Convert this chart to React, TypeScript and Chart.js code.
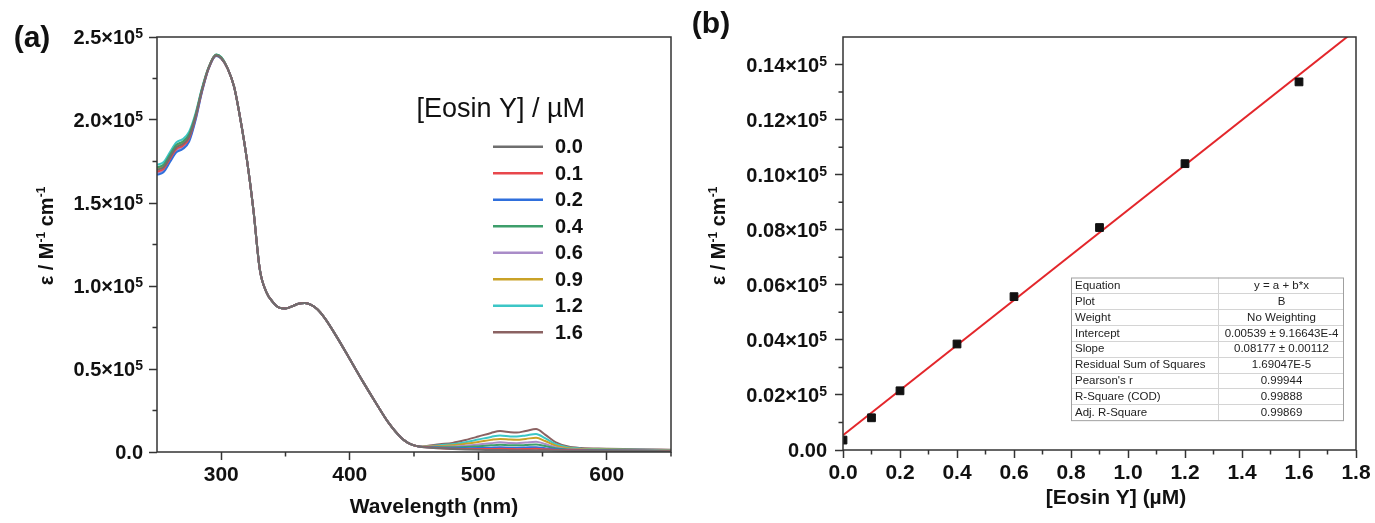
import React, { useEffect, useRef } from 'react';
import { Chart, registerables } from 'chart.js';

Chart.register(...registerables);

const FONT = '"Liberation Sans", Arial, Helvetica, sans-serif';

// ---------- Panel (a): molar absorptivity spectra (values in 10^5 M^-1 cm^-1) ----------
const wavelengths = [250, 255, 260, 265, 270, 275, 280, 285, 290, 296, 300, 305, 310, 315, 320, 325, 330, 335, 340, 345, 350, 355, 360, 365, 370, 375, 380, 390, 400, 410, 420, 430, 440, 445, 450, 455, 460, 470, 480, 490, 500, 510, 517, 525, 530, 537, 545, 552, 560, 570, 580, 600, 625, 650];

const concLabels = ['0.0', '0.1', '0.2', '0.4', '0.6', '0.9', '1.2', '1.6'];
const concColors = ['#6e6e6e', '#e8474c', '#2f6fdc', '#3d9e6b', '#a98cc8', '#c9a227', '#3cc6c6', '#8b6262'];

const eps00 = [1.700, 1.715, 1.775, 1.835, 1.855, 1.900, 2.020, 2.180, 2.310, 2.388, 2.372, 2.310, 2.200, 2.000, 1.760, 1.460, 1.100, 0.965, 0.905, 0.870, 0.865, 0.877, 0.893, 0.898, 0.886, 0.858, 0.812, 0.692, 0.560, 0.427, 0.300, 0.178, 0.086, 0.057, 0.040, 0.032, 0.027, 0.022, 0.018, 0.015, 0.013, 0.012, 0.012, 0.011, 0.011, 0.011, 0.011, 0.010, 0.009, 0.008, 0.008, 0.007, 0.006, 0.005];
const eps01 = [1.690, 1.705, 1.765, 1.825, 1.845, 1.890, 2.013, 2.176, 2.308, 2.388, 2.372, 2.310, 2.200, 2.000, 1.760, 1.460, 1.100, 0.965, 0.905, 0.870, 0.865, 0.877, 0.893, 0.898, 0.886, 0.858, 0.812, 0.692, 0.560, 0.427, 0.300, 0.178, 0.086, 0.057, 0.040, 0.032, 0.028, 0.023, 0.020, 0.018, 0.018, 0.018, 0.019, 0.018, 0.017, 0.018, 0.019, 0.016, 0.012, 0.010, 0.009, 0.008, 0.007, 0.006];
const eps02 = [1.670, 1.685, 1.745, 1.805, 1.825, 1.870, 1.999, 2.168, 2.305, 2.386, 2.370, 2.310, 2.200, 2.000, 1.760, 1.460, 1.100, 0.965, 0.905, 0.870, 0.865, 0.877, 0.893, 0.898, 0.886, 0.858, 0.812, 0.692, 0.560, 0.427, 0.300, 0.178, 0.086, 0.057, 0.040, 0.032, 0.029, 0.025, 0.023, 0.023, 0.024, 0.026, 0.028, 0.026, 0.026, 0.027, 0.029, 0.023, 0.016, 0.012, 0.010, 0.009, 0.007, 0.006];
const eps04 = [1.715, 1.730, 1.790, 1.850, 1.870, 1.915, 2.030, 2.186, 2.312, 2.394, 2.378, 2.310, 2.200, 2.000, 1.760, 1.460, 1.100, 0.965, 0.905, 0.870, 0.865, 0.877, 0.893, 0.898, 0.886, 0.858, 0.812, 0.692, 0.560, 0.427, 0.300, 0.178, 0.086, 0.057, 0.040, 0.032, 0.030, 0.029, 0.028, 0.030, 0.035, 0.040, 0.043, 0.040, 0.040, 0.042, 0.045, 0.036, 0.023, 0.015, 0.012, 0.011, 0.009, 0.007];
const eps06 = [1.680, 1.695, 1.755, 1.815, 1.835, 1.880, 2.006, 2.172, 2.307, 2.387, 2.371, 2.310, 2.200, 2.000, 1.760, 1.460, 1.100, 0.965, 0.905, 0.870, 0.865, 0.877, 0.893, 0.898, 0.886, 0.858, 0.812, 0.692, 0.560, 0.427, 0.300, 0.178, 0.086, 0.057, 0.040, 0.032, 0.031, 0.032, 0.033, 0.038, 0.045, 0.053, 0.058, 0.054, 0.053, 0.057, 0.062, 0.048, 0.029, 0.018, 0.014, 0.012, 0.010, 0.009];
const eps09 = [1.705, 1.720, 1.780, 1.840, 1.860, 1.905, 2.024, 2.182, 2.311, 2.389, 2.373, 2.310, 2.200, 2.000, 1.760, 1.460, 1.100, 0.965, 0.905, 0.870, 0.865, 0.877, 0.893, 0.898, 0.886, 0.858, 0.812, 0.692, 0.560, 0.427, 0.300, 0.178, 0.086, 0.057, 0.040, 0.032, 0.033, 0.036, 0.040, 0.049, 0.060, 0.073, 0.079, 0.075, 0.074, 0.079, 0.086, 0.066, 0.039, 0.023, 0.017, 0.015, 0.012, 0.010];
const eps12 = [1.730, 1.745, 1.805, 1.865, 1.885, 1.930, 2.041, 2.192, 2.315, 2.395, 2.379, 2.310, 2.200, 2.000, 1.760, 1.460, 1.100, 0.965, 0.905, 0.870, 0.865, 0.877, 0.893, 0.898, 0.886, 0.858, 0.812, 0.692, 0.560, 0.427, 0.300, 0.178, 0.086, 0.057, 0.040, 0.032, 0.034, 0.041, 0.047, 0.059, 0.075, 0.091, 0.100, 0.094, 0.093, 0.100, 0.109, 0.083, 0.048, 0.027, 0.020, 0.017, 0.014, 0.012];
const eps16 = [1.708, 1.723, 1.783, 1.843, 1.863, 1.908, 2.026, 2.183, 2.311, 2.389, 2.373, 2.310, 2.200, 2.000, 1.760, 1.460, 1.100, 0.965, 0.905, 0.870, 0.865, 0.877, 0.893, 0.898, 0.886, 0.858, 0.812, 0.692, 0.560, 0.427, 0.300, 0.178, 0.086, 0.057, 0.040, 0.032, 0.036, 0.046, 0.055, 0.072, 0.093, 0.115, 0.126, 0.119, 0.117, 0.127, 0.138, 0.105, 0.060, 0.033, 0.024, 0.020, 0.016, 0.014];
const spectra = [eps00, eps01, eps02, eps04, eps06, eps09, eps12, eps16];

const aXTicks = [300, 400, 500, 600];
const aXTickLabels = ['300', '400', '500', '600'];
const aXMinor = [350, 450, 550, 650];
const aYTicks = [0, 0.5, 1.0, 1.5, 2.0, 2.5];
const aYTickLabels = ['0.0', '0.5×10', '1.0×10', '1.5×10', '2.0×10', '2.5×10'];
const aYTickExp = ['', '5', '5', '5', '5', '5'];
const aYMinor = [0.25, 0.75, 1.25, 1.75, 2.25];

// ---------- Panel (b): calibration (values in 10^5 M^-1 cm^-1) ----------
const bConc = [0.0, 0.1, 0.2, 0.4, 0.6, 0.9, 1.2, 1.6];
const bEps = [0.0036, 0.0117, 0.0215, 0.0385, 0.0557, 0.0808, 0.1040, 0.1337];
const fitLineX = [0, 1.8];
const fitLineY = [0.00539, 0.15258];

const bXTicks = [0, 0.2, 0.4, 0.6, 0.8, 1.0, 1.2, 1.4, 1.6, 1.8];
const bXTickLabels = ['0.0', '0.2', '0.4', '0.6', '0.8', '1.0', '1.2', '1.4', '1.6', '1.8'];
const bXMinor = [0.1, 0.3, 0.5, 0.7, 0.9, 1.1, 1.3, 1.5, 1.7];
const bYTicks = [0, 0.02, 0.04, 0.06, 0.08, 0.10, 0.12, 0.14];
const bYTickLabels = ['0.00', '0.02×10', '0.04×10', '0.06×10', '0.08×10', '0.10×10', '0.12×10', '0.14×10'];
const bYTickExp = ['', '5', '5', '5', '5', '5', '5', '5'];
const bYMinor = [0.01, 0.03, 0.05, 0.07, 0.09, 0.11, 0.13];

const fitTableKeys = ['Equation', 'Plot', 'Weight', 'Intercept', 'Slope', 'Residual Sum of Squares', "Pearson's r", 'R-Square (COD)', 'Adj. R-Square'];
const fitTableValues = ['y = a + b*x', 'B', 'No Weighting', '0.00539 ± 9.16643E-4', '0.08177 ± 0.00112', '1.69047E-5', '0.99944', '0.99888', '0.99869'];

// y-axis title as rich-text parts: [text, isSuperscript]
const yTitleParts: [string, boolean][] = [['ε / M', false], ['-1', true], [' cm', false], ['-1', true]];

function drawRichRotated(ctx: CanvasRenderingContext2D, parts: [string, boolean][], cx: number, cy: number) {
  const big = `bold 20px ${FONT}`;
  const small = `bold 12px ${FONT}`;
  let total = 0;
  const widths = parts.map(([t, sup]) => {
    ctx.font = sup ? small : big;
    const w = ctx.measureText(t).width;
    total += w;
    return w;
  });
  ctx.save();
  ctx.translate(cx, cy);
  ctx.rotate(-Math.PI / 2);
  ctx.fillStyle = '#111';
  ctx.textAlign = 'left';
  ctx.textBaseline = 'alphabetic';
  let x = -total / 2;
  parts.forEach(([t, sup], i) => {
    ctx.font = sup ? small : big;
    ctx.fillText(t, x, sup ? -1 : 7);
    x += widths[i];
  });
  ctx.restore();
}

function axisDecorPlugin(cfg: {
  xMinor: number[]; yMinor: number[]; yTicks: number[]; yLabels: string[]; yExp: string[];
  yLabelRight: number; titleX: number; titleY: number;
}) {
  return {
    id: 'axisDecor',
    afterDraw(chart: any) {
      const { ctx, chartArea: a, scales } = chart;
      ctx.save();
      ctx.strokeStyle = '#333';
      ctx.lineWidth = 1.5;
      ctx.strokeRect(a.left, a.top, a.right - a.left, a.bottom - a.top);
      ctx.beginPath();
      cfg.xMinor.forEach((v) => {
        const p = scales.x.getPixelForValue(v);
        ctx.moveTo(p, a.bottom);
        ctx.lineTo(p, a.bottom + 4.5);
      });
      cfg.yMinor.forEach((v) => {
        const p = scales.y.getPixelForValue(v);
        ctx.moveTo(a.left, p);
        ctx.lineTo(a.left - 4.5, p);
      });
      ctx.stroke();
      // y tick labels with superscript exponent
      ctx.fillStyle = '#111';
      ctx.textBaseline = 'alphabetic';
      ctx.textAlign = 'right';
      cfg.yTicks.forEach((v, i) => {
        const y = scales.y.getPixelForValue(v);
        let xr = cfg.yLabelRight;
        const exp = cfg.yExp[i];
        if (exp) {
          ctx.font = `bold 14px ${FONT}`;
          ctx.fillText(exp, xr, y + 1);
          xr -= ctx.measureText(exp).width;
        }
        ctx.font = `bold 20px ${FONT}`;
        ctx.fillText(cfg.yLabels[i], xr, y + 7.2);
      });
      ctx.restore();
      drawRichRotated(ctx, yTitleParts, cfg.titleX, cfg.titleY);
    },
  };
}

type TextItem = { text: string; x: number; y: number; font: string; align?: CanvasTextAlign };
function textPlugin(items: TextItem[]) {
  return {
    id: 'texts',
    afterDraw(chart: any) {
      const ctx = chart.ctx;
      ctx.save();
      ctx.fillStyle = '#111';
      ctx.textBaseline = 'middle';
      items.forEach((t) => {
        ctx.font = t.font;
        ctx.textAlign = t.align || 'center';
        ctx.fillText(t.text, t.x, t.y);
      });
      ctx.restore();
    },
  };
}

const legendPlugin = {
  id: 'spectraLegend',
  afterDraw(chart: any) {
    const ctx = chart.ctx;
    ctx.save();
    ctx.fillStyle = '#111';
    ctx.textBaseline = 'middle';
    ctx.textAlign = 'right';
    ctx.font = `27px ${FONT}`;
    ctx.fillText('[Eosin Y] / µM', 585, 110);
    chart.data.datasets.forEach((ds: any, i: number) => {
      const y = 146.7 + i * 26.5;
      ctx.strokeStyle = ds.borderColor;
      ctx.lineWidth = 2.5;
      ctx.beginPath();
      ctx.moveTo(493, y);
      ctx.lineTo(543, y);
      ctx.stroke();
      ctx.textAlign = 'left';
      ctx.font = `bold 20px ${FONT}`;
      ctx.fillText(ds.label, 555, y + 1);
    });
    ctx.restore();
  },
};

const tablePlugin = {
  id: 'fitTable',
  afterDraw(chart: any) {
    const ctx = chart.ctx;
    const left = 1071, top = 277.5, colX = 1218, right = 1343, rowH = 15.85;
    const n = fitTableKeys.length;
    const bottom = top + n * rowH;
    ctx.save();
    ctx.fillStyle = '#ffffff';
    ctx.fillRect(left, top, right - left, bottom - top);
    ctx.strokeStyle = '#d4d4d4';
    ctx.lineWidth = 1;
    ctx.beginPath();
    for (let i = 1; i < n; i++) {
      const y = Math.round(top + i * rowH) + 0.5;
      ctx.moveTo(left, y);
      ctx.lineTo(right, y);
    }
    ctx.moveTo(colX + 0.5, top);
    ctx.lineTo(colX + 0.5, bottom);
    ctx.stroke();
    ctx.strokeStyle = '#a0a0a0';
    ctx.strokeRect(left + 0.5, top + 0.5, right - left, bottom - top);
    ctx.fillStyle = '#222';
    ctx.font = `11.5px ${FONT}`;
    ctx.textBaseline = 'middle';
    for (let i = 0; i < n; i++) {
      const y = top + (i + 0.5) * rowH + 0.5;
      ctx.textAlign = 'left';
      ctx.fillText(fitTableKeys[i], left + 4, y);
      ctx.textAlign = 'center';
      ctx.fillText(fitTableValues[i], (colX + right) / 2 + 1, y);
    }
    ctx.restore();
  },
};

function axisCommon(tickFontSize: number) {
  return {
    type: 'linear' as const,
    border: { display: false },
    grid: {
      display: true,
      drawOnChartArea: false,
      drawTicks: true,
      tickLength: 8,
      tickWidth: 1.5,
      tickColor: '#333',
    },
    ticks: {
      font: { family: FONT, weight: 'bold' as const, size: tickFontSize },
      color: '#111',
      maxRotation: 0,
      minRotation: 0,
      autoSkip: false,
    },
  };
}

export default function App() {
  const refA = useRef<HTMLCanvasElement>(null);
  const refB = useRef<HTMLCanvasElement>(null);

  useEffect(() => {
    const ax = axisCommon(21);
    const ay = axisCommon(20);
    const chartA = new Chart(refA.current as HTMLCanvasElement, {
      type: 'line',
      data: {
        datasets: spectra.map((arr, i) => ({
          label: concLabels[i],
          data: wavelengths.map((w, j) => ({ x: w, y: arr[j] })),
          borderColor: concColors[i],
          backgroundColor: concColors[i],
          borderWidth: 2,
          pointRadius: 0,
          cubicInterpolationMode: 'monotone' as const,
          fill: false,
        })),
      },
      options: {
        responsive: false,
        animation: false,
        devicePixelRatio: 1,
        layout: { padding: { left: 0, top: 37, right: 704, bottom: 0 } },
        plugins: { legend: { display: false }, tooltip: { enabled: false } },
        scales: {
          x: {
            ...ax,
            min: 250,
            max: 650,
            afterBuildTicks: (s: any) => { s.ticks = aXTicks.map((v) => ({ value: v })); },
            afterFit: (s: any) => { s.height = 71; },
            ticks: { ...ax.ticks, padding: 3, callback: (_v: any, i: number) => aXTickLabels[i] },
          },
          y: {
            ...ay,
            min: 0,
            max: 2.5,
            afterBuildTicks: (s: any) => { s.ticks = aYTicks.map((v) => ({ value: v })); },
            afterFit: (s: any) => { s.width = 157; },
            ticks: { ...ay.ticks, display: false },
          },
        },
      },
      plugins: [
        axisDecorPlugin({
          xMinor: aXMinor, yMinor: aYMinor, yTicks: aYTicks, yLabels: aYTickLabels, yExp: aYTickExp,
          yLabelRight: 143, titleX: 46, titleY: 236,
        }),
        legendPlugin,
        textPlugin([
          { text: 'Wavelength (nm)', x: 434, y: 507, font: `bold 21px ${FONT}` },
          { text: '(a)', x: 32, y: 39, font: `bold 30px ${FONT}` },
        ]),
      ],
    } as any);

    const chartB = new Chart(refB.current as HTMLCanvasElement, {
      type: 'scatter',
      data: {
        datasets: [
          {
            label: 'B',
            data: bConc.map((c, i) => ({ x: c, y: bEps[i] })),
            pointStyle: 'rect',
            pointRadius: 5.5,
            backgroundColor: '#111',
            borderColor: '#111',
            borderWidth: 1,
            showLine: false,
          },
          {
            label: 'Linear Fit',
            data: fitLineX.map((x, i) => ({ x, y: fitLineY[i] })),
            showLine: true,
            borderColor: '#e3262b',
            borderWidth: 2,
            pointRadius: 0,
          },
        ],
      },
      options: {
        responsive: false,
        animation: false,
        devicePixelRatio: 1,
        layout: { padding: { left: 690, top: 37, right: 19, bottom: 0 } },
        plugins: { legend: { display: false }, tooltip: { enabled: false } },
        scales: {
          x: {
            ...ax,
            min: 0,
            max: 1.8,
            afterBuildTicks: (s: any) => { s.ticks = bXTicks.map((v) => ({ value: v })); },
            afterFit: (s: any) => { s.height = 73; },
            ticks: { ...ax.ticks, padding: 3, callback: (_v: any, i: number) => bXTickLabels[i] },
          },
          y: {
            ...ay,
            min: 0,
            max: 0.15,
            afterBuildTicks: (s: any) => { s.ticks = bYTicks.map((v) => ({ value: v })); },
            afterFit: (s: any) => { s.width = 153; },
            ticks: { ...ay.ticks, display: false },
          },
        },
      },
      plugins: [
        axisDecorPlugin({
          xMinor: bXMinor, yMinor: bYMinor, yTicks: bYTicks, yLabels: bYTickLabels, yExp: bYTickExp,
          yLabelRight: 827, titleX: 718, titleY: 236,
        }),
        tablePlugin,
        textPlugin([
          { text: '[Eosin Y] (µM)', x: 1116, y: 498, font: `bold 21px ${FONT}` },
          { text: '(b)', x: 711, y: 25, font: `bold 30px ${FONT}` },
        ]),
      ],
    } as any);

    return () => {
      chartA.destroy();
      chartB.destroy();
    };
  }, []);

  return (
    <div style={{ position: 'absolute', left: 0, top: 0, width: 1375, height: 523, background: '#fff', overflow: 'hidden' }}>
      <canvas ref={refA} width={1375} height={523} style={{ position: 'absolute', left: 0, top: 0 }} />
      <canvas ref={refB} width={1375} height={523} style={{ position: 'absolute', left: 0, top: 0 }} />
    </div>
  );
}
